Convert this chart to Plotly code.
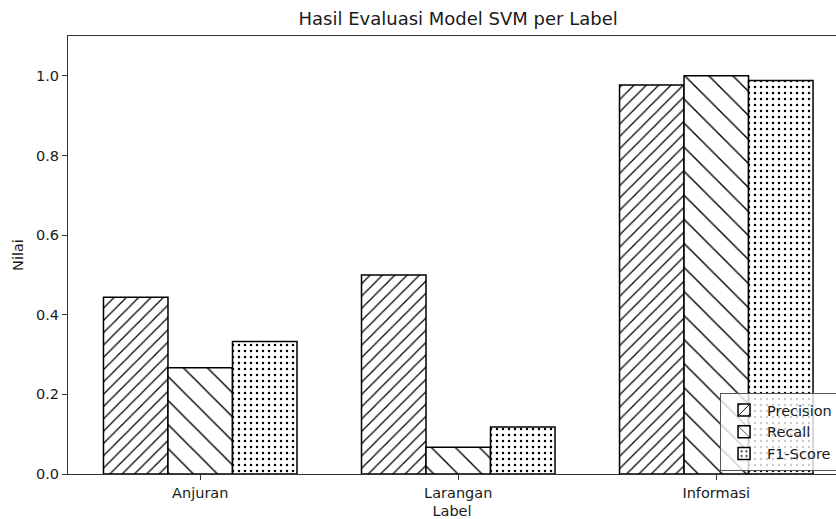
import plotly.graph_objects as go

categories = ["Anjuran", "Larangan", "Informasi"]
precision = [0.444, 0.500, 0.977]
recall = [0.267, 0.067, 1.000]
f1_score = [0.333, 0.118, 0.988]

series = [
    ("Precision", precision, "/", 8.7, 0.14),
    ("Recall", recall, "\\", 17, 0.08),
    ("F1-Score", f1_score, ".", 6, 0.14),
]

FONT = "DejaVu Sans"
TXT = "#1a1a1a"
fig = go.Figure()
for name, vals, shape, size, sol in series:
    fig.add_trace(go.Bar(
        x=list(range(len(categories))), y=vals, name=name,
        marker=dict(color="white",
                    line=dict(color="black", width=1.5),
                    pattern=dict(shape=shape, size=size, solidity=sol,
                                 fgcolor="black", bgcolor="white",
                                 fillmode="replace")),
    ))

fig.update_layout(
    width=836, height=519,
    template="none",
    paper_bgcolor="white", plot_bgcolor="white",
    margin=dict(l=68, r=0, t=36, b=45, autoexpand=False),
    barmode="group", bargap=0.25, bargroupgap=0,
    font=dict(family=FONT, size=14, color=TXT),
    title=dict(text="Hasil Evaluasi Model SVM per Label", x=0.548, xanchor="center",
               y=1 - 19 / 519, yanchor="middle", yref="container",
               font=dict(family=FONT, size=18, color=TXT)),
    showlegend=True,
    legend=dict(x=0.849, y=0.185, xanchor="left", yanchor="top",
                bgcolor="rgba(255,255,255,0.8)", bordercolor="#555", borderwidth=1,
                font=dict(family=FONT, size=14.5, color=TXT),
                traceorder="normal", itemwidth=36),
    xaxis=dict(tickmode="array", tickvals=list(range(len(categories))), ticktext=categories,
               range=[-0.5125, 2.464], showline=True, linecolor="#333", linewidth=1.2,
               mirror=True, ticks="outside", ticklen=5, tickcolor="#333", showgrid=False,
               zeroline=False, automargin=False,
               tickfont=dict(family=FONT, size=14.5, color=TXT),
               title=dict(text="Label", standoff=6, font=dict(family=FONT, size=14.5, color=TXT))),
    yaxis=dict(range=[0, 1.1], tickvals=[0, 0.2, 0.4, 0.6, 0.8, 1.0],
               ticktext=["0.0", "0.2", "0.4", "0.6", "0.8", "1.0"],
               showline=True, linecolor="#333", linewidth=1.2, mirror=False,
               ticks="outside", ticklen=5, tickcolor="#333", showgrid=False,
               zeroline=False, automargin=False,
               tickfont=dict(family=FONT, size=14.5, color=TXT),
               title=dict(text="Nilai", standoff=8, font=dict(family=FONT, size=14.5, color=TXT))),
)

fig.write_html("out.html")
